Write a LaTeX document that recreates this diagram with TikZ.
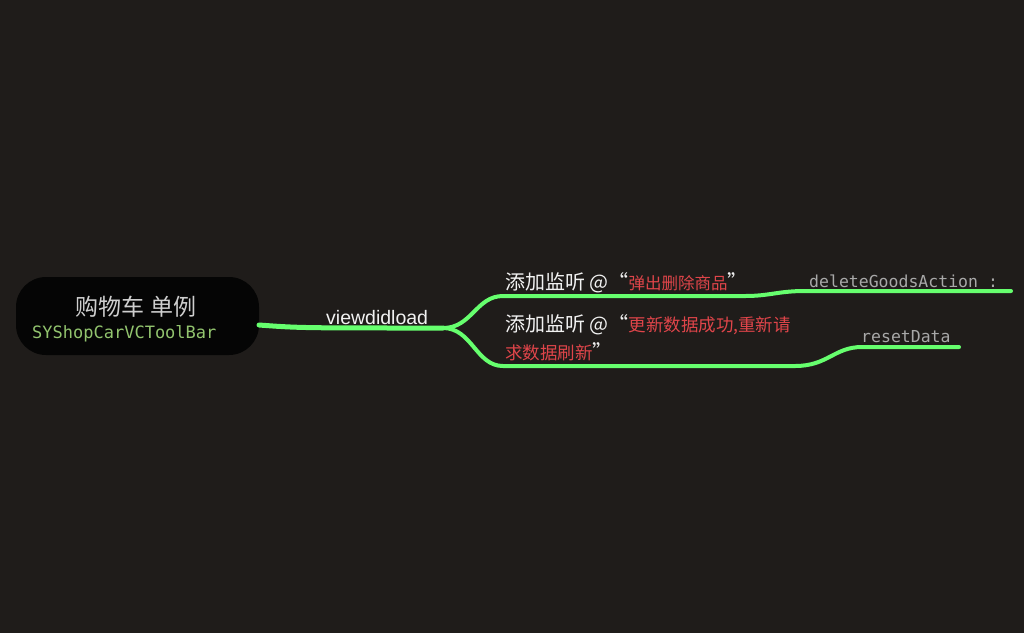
\documentclass[tikz,border=0pt]{standalone}
\usepackage{fontspec}
\usepackage{xcolor}
\usetikzlibrary{positioning, calc}
\setmainfont{Liberation Sans}
\newfontfamily\cjk{Noto Sans CJK SC}
\newfontfamily\codefont{DejaVu Sans Mono}
\definecolor{MapBg}{HTML}{1F1C1A}
\definecolor{RootFill}{HTML}{050505}
\definecolor{BranchGreen}{HTML}{66FF6E}
\definecolor{SoftWhite}{HTML}{F2F2F2}
\definecolor{RootGray}{HTML}{CFCFCF}
\definecolor{CodeGreen}{HTML}{92C46E}
\definecolor{NoteRed}{HTML}{E0454A}
\definecolor{CodeGray}{HTML}{A8A8A8}
\newcommand{\redtext}[2][16.5]{\textcolor{NoteRed}{\fontsize{#1}{19}\selectfont#2}}
\tikzset{
  branch/.style={draw=BranchGreen, line width=4pt, line cap=round},
  leaflabel/.style={anchor=base west, inner sep=0pt, text=SoftWhite},
  codelabel/.style={anchor=base west, inner sep=0pt, text=CodeGray,
                    font=\codefont\fontsize{16.5}{19}\selectfont}
}
\begin{document}
\begin{tikzpicture}[x=1pt, y=-1pt]
\fill[MapBg] (0,0) rectangle (1024,633);
\useasboundingbox (0,0) rectangle (1024,633);

% root topic
\fill[RootFill, rounded corners=30pt] (16,277) rectangle (259,355);
\node[anchor=base, inner sep=0pt, text=RootGray,
      font=\cjk\fontsize{23}{26}\selectfont] (root) at (136,315) {购物车 单例};
\node[anchor=base west, inner sep=0pt, text=CodeGreen,
      font=\codefont\fontsize{17}{20}\selectfont] (rootcode) at (32,338) {SYShopCarVCToolBar};
\coordinate (rootout) at (259,325);

% main branch
\coordinate (fork) at (443,328);
\draw[branch, line width=5pt] (rootout) .. controls (300,328) .. (fork);
\node[leaflabel, font=\fontsize{19.5}{22}\selectfont] (viewdl) at (326,324) {viewdidload};

% first listener
\coordinate (up1) at (503,296);
\coordinate (up2) at (745,296);
\coordinate (up3) at (805,291);
\coordinate (up4) at (1011,291);
\draw[branch] (fork) .. controls (472,328) and (476,296) .. (up1) -- (up2)
  .. controls (770,296) and (778,291) .. (up3) -- (up4);
\node[leaflabel, font=\cjk\fontsize{20}{24}\selectfont] (listen1) at (505,289)
  {添加监听 @“\redtext{弹出删除商品}”};
\node[codelabel] (delgoods) at (809,287) {deleteGoodsAction :};

% second listener
\coordinate (dn1) at (503,366);
\coordinate (dn2) at (795,366);
\coordinate (dn3) at (862,347);
\coordinate (dn4) at (959,347);
\draw[branch] (fork) .. controls (472,328) and (476,366) .. (dn1) -- (dn2)
  .. controls (828,366) and (834,347) .. (dn3) -- (dn4);
\node[leaflabel, font=\cjk\fontsize{20}{24}\selectfont] (listen2) at (505,331)
  {添加监听 @“\redtext[17.5]{更新数据成功,重新请}};
\node[leaflabel, font=\cjk\fontsize{20}{24}\selectfont] (listen2b) at (505,359)
  {\redtext[17.5]{求数据刷新}”};
\node[codelabel] (resetdata) at (861,342) {resetData};
\end{tikzpicture}
\end{document}
